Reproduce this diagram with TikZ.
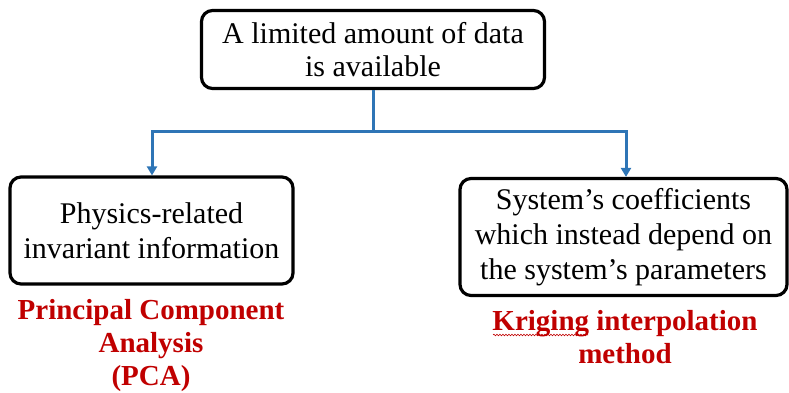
\documentclass[tikz,border=0pt]{standalone}
\usepackage{fontspec}
\setmainfont{Liberation Serif}
\usetikzlibrary{arrows.meta,decorations.pathmorphing}
\definecolor{linkblue}{RGB}{46,117,182}
\definecolor{methodred}{RGB}{192,0,0}
\tikzset{
  box/.style={draw=black, line width=3.2pt, rounded corners=11pt, align=center,
    inner sep=0pt, font=\fontsize{30}{35}\selectfont},
  link/.style={draw=linkblue, line width=3pt},
  arrowlink/.style={link, -{Triangle[length=9pt,width=10pt]}},
  method/.style={text=methodred, align=center, font=\bfseries\fontsize{29}{33}\selectfont}
}
\begin{document}
\begin{tikzpicture}[x=1pt,y=-1pt]
  \useasboundingbox (0,0) rectangle (789,393);
  % question box and the two answers
  \node[box, font=\fontsize{30}{32.5}\selectfont, minimum width=343pt, minimum height=78pt]
    (top) at (373,49.5) {A limited amount of data\\is available};
  \node[box, minimum width=283pt, minimum height=107pt] (left) at (151.5,230.5)
    {Physics-related\\invariant information};
  \node[box, minimum width=327pt, minimum height=117pt] (right) at (623.5,237)
    {System's coefficients\\which instead depend on\\the system's parameters};
  % branching connector
  \coordinate (split) at (373,131);
  \coordinate (lcorner) at (152,131);
  \coordinate (rcorner) at (626,131);
  \draw[link] (top.south) -- (split);
  \draw[arrowlink] (split) -- (lcorner) -- (lcorner |- left.north);
  \draw[arrowlink] (split) -- (rcorner) -- (rcorner |- right.north);
  % methods
  \node[method] (pca) at (151,345.5) {Principal Component\\Analysis\\(PCA)};
  \node[method] (krig) at (625,337) {Kriging interpolation\\method};
  \draw[methodred, line width=0.6pt,
    decorate, decoration={snake, segment length=3pt, amplitude=0.8pt}]
    (493,335) -- (588,335);
\end{tikzpicture}
\end{document}
